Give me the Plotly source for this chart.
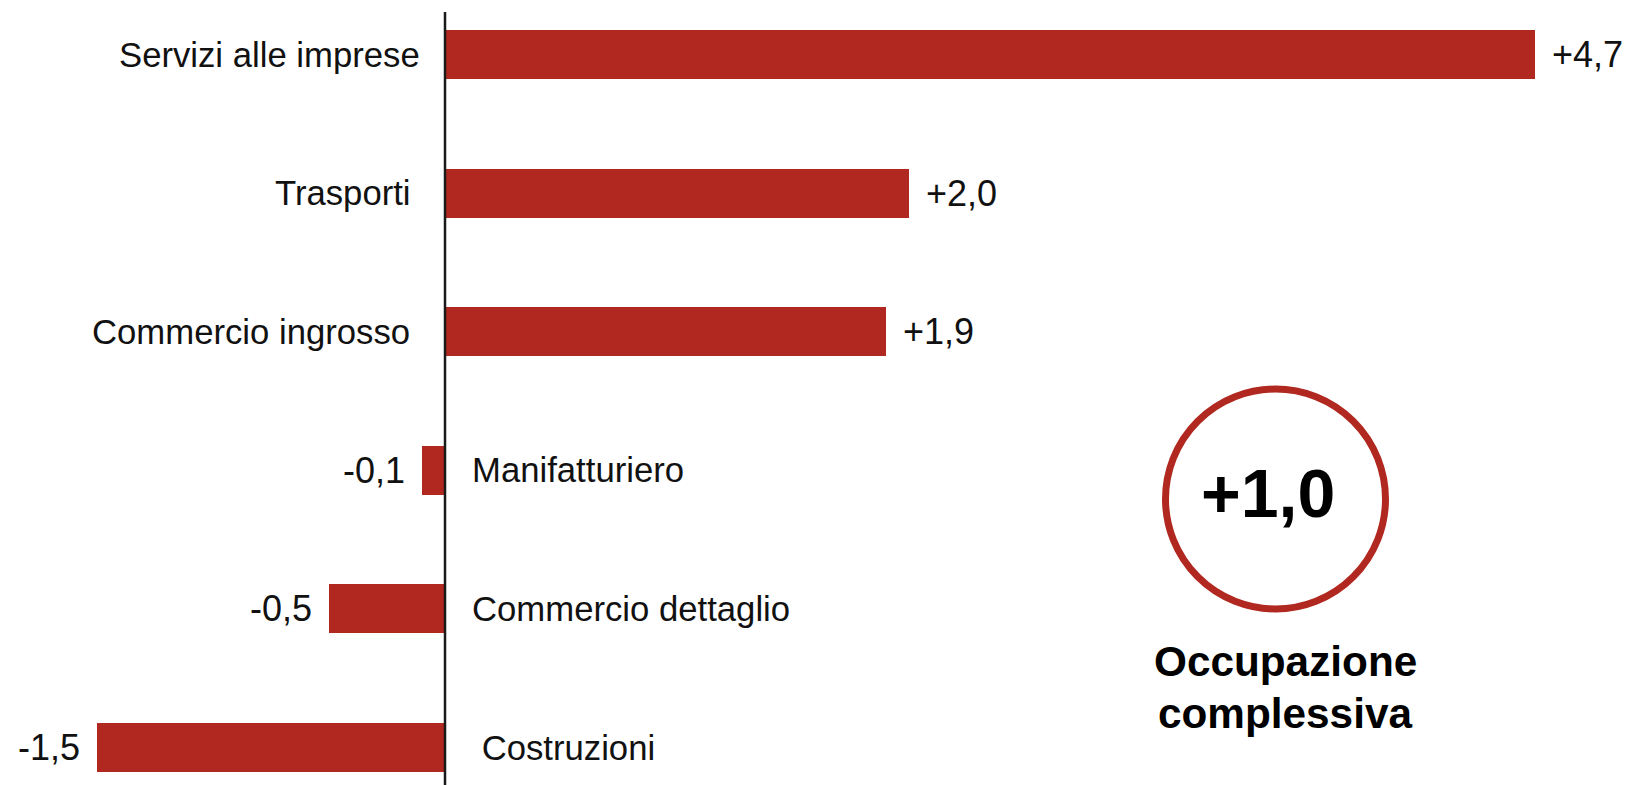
import plotly.graph_objects as go

categories = ["Servizi alle imprese", "Trasporti ", "Commercio ingrosso ",
              "Manifatturiero", "Commercio dettaglio", " Costruzioni"]
values = [4.7, 2.0, 1.9, -0.1, -0.5, -1.5]
total_value = 1.0
total_label = ["Occupazione", "complessiva"]

RED = "#B0281F"
FONT = "Liberation Sans, Arial, sans-serif"


def fmt(v):
    return f"{v:+.1f}".replace(".", ",")


def nb(s):
    return s.replace(" ", "\u00a0")


W, H = 1630, 785
PX_PER_UNIT = 232.0
AXIS_PX = 445
x_range = [-AXIS_PX / PX_PER_UNIT, (W - AXIS_PX) / PX_PER_UNIT]

# y: category index 0 at top; spacing 138.6 px, top bar centre at 54.5 px
CAT_PX = 138.6
y_top = -54.5 / CAT_PX
y_bottom = (len(categories) - 1) + (H - 747.5) / CAT_PX
idx = list(range(len(categories)))

fig = go.Figure(go.Bar(
    x=values, y=idx, orientation="h",
    marker=dict(color=RED, line=dict(width=0)),
    width=0.354, hoverinfo="skip",
))

LBL = dict(size=34.7, color="#111", family=FONT)
VAL = dict(size=36, color="#111", family=FONT)

annotations = []
for i, (c, v) in enumerate(zip(categories, values)):
    if v >= 0:
        annotations.append(dict(x=0, y=i, text=nb(c), xanchor="right", xshift=-23,
                                showarrow=False, yanchor="middle", font=LBL))
        annotations.append(dict(x=v, y=i, text=fmt(v), xanchor="left", xshift=15,
                                showarrow=False, yanchor="middle", font=VAL))
    else:
        annotations.append(dict(x=0, y=i, text=nb(c), xanchor="left", xshift=25,
                                showarrow=False, yanchor="middle", font=LBL))
        annotations.append(dict(x=v, y=i, text=fmt(v), xanchor="right", xshift=-15,
                                showarrow=False, yanchor="middle", font=VAL))

# total circle
cx, cy, r = 1275.5, 499.0, 110.0
annotations.append(dict(xref="paper", yref="paper", x=1268 / W, y=1 - 493 / H,
                        text=f"<b>{fmt(total_value)}</b>", showarrow=False,
                        xanchor="center", yanchor="middle",
                        font=dict(size=68, color="#000", family=FONT)))
for line_text, ypx in zip(total_label, [661, 713]):
    annotations.append(dict(xref="paper", yref="paper", x=1285 / W, y=1 - ypx / H,
                            text=f"<b>{line_text}</b>", showarrow=False,
                            xanchor="center", yanchor="middle",
                            font=dict(size=42.3, color="#000", family=FONT)))

shapes = [
    dict(type="circle", xref="paper", yref="paper",
         x0=(cx - r) / W, x1=(cx + r) / W, y0=1 - (cy + r) / H, y1=1 - (cy - r) / H,
         line=dict(color=RED, width=7), fillcolor="rgba(0,0,0,0)"),
    dict(type="line", xref="x", yref="paper", x0=0, x1=0, y0=0, y1=1 - 12 / H,
         line=dict(color="#1a1a1a", width=2.5)),
]

fig.update_layout(
    width=W, height=H,
    margin=dict(l=0, r=0, t=0, b=0),
    paper_bgcolor="white", plot_bgcolor="white",
    showlegend=False,
    xaxis=dict(range=x_range, visible=False, fixedrange=True),
    yaxis=dict(range=[y_bottom, y_top], visible=False, fixedrange=True),
    annotations=annotations, shapes=shapes,
    bargap=0,
)

fig.write_html("out.html", config={"displayModeBar": False},
               post_script="document.body.style.margin='0';document.body.style.overflow='hidden';")
